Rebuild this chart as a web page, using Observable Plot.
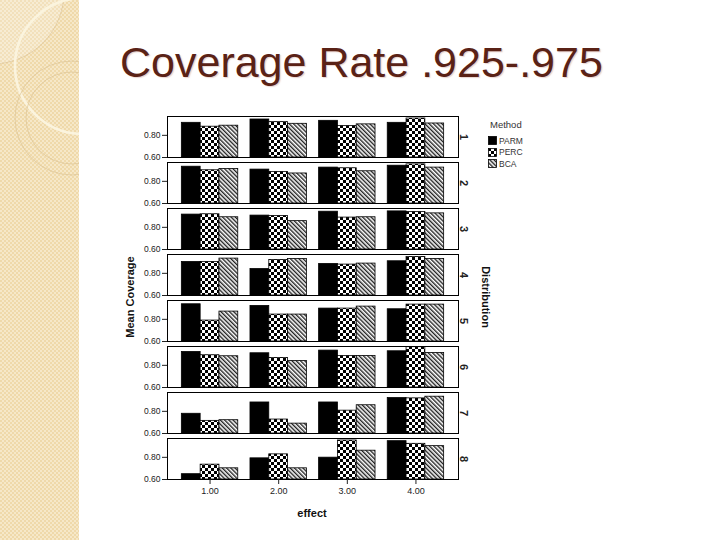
<!DOCTYPE html>
<html>
<head>
<meta charset="utf-8">
<script src="https://cdn.jsdelivr.net/npm/d3@7"></script>
<script src="https://cdn.jsdelivr.net/npm/@observablehq/plot@0.6"></script>
<style>
  html, body { margin: 0; padding: 0; }
  body { width: 720px; height: 540px; position: relative; overflow: hidden; background: #fff;
         font-family: "Liberation Sans", Arial, sans-serif; }
  #band { position: absolute; left: 0; top: 0; width: 79px; height: 540px; overflow: hidden;
          background-color: #f2dfb4;
          background-image: repeating-conic-gradient(#f6e8c8 0 25%, #efd9aa 0 50%);
          background-size: 4px 4px; }
  #title { position: absolute; left: 120px; top: 38px; font-size: 43px; color: #5a2216;
           white-space: nowrap; text-shadow: 1.2px 1.2px 1px rgba(210,170,160,0.5); }
  #chart { position: absolute; left: 100px; top: 100px; }
  .lab { position: absolute; font-weight: bold; font-size: 11px; color: #111; white-space: nowrap; }
  #legend { position: absolute; left: 488px; top: 119px; font-size: 8.5px; color: #333; }
</style>
</head>
<body>
<div id="band">
  <svg width="79" height="540">
    <circle cx="-8" cy="-8" r="72" fill="rgba(255,255,255,0.2)" stroke="rgba(200,170,120,0.5)" stroke-width="0.7"/>
    <circle cx="83" cy="66" r="68" fill="none" stroke="#fbf4de" stroke-width="2.6"/>
    <circle cx="72" cy="118" r="57" fill="none" stroke="#dcc495" stroke-width="0.7"/>
    <circle cx="72" cy="118" r="46" fill="none" stroke="#dcc495" stroke-width="0.7"/>
  </svg>
</div>
<div id="title">Coverage Rate .925-.975</div>

<svg width="0" height="0" style="position:absolute">
  <defs>
    <pattern id="pat-chk" width="6" height="6" patternUnits="userSpaceOnUse">
      <rect width="6" height="6" fill="#fff"/>
      <rect width="3" height="3" fill="#000"/>
      <rect x="3" y="3" width="3" height="3" fill="#000"/>
    </pattern>
    <pattern id="pat-hatch" width="3" height="3" patternUnits="userSpaceOnUse" patternTransform="rotate(-45)">
      <rect width="3" height="3" fill="#fff"/>
      <line x1="0.7" y1="0" x2="0.7" y2="3" stroke="#222" stroke-width="1.4"/>
    </pattern>
  </defs>
</svg>

<div id="chart"></div>
<div class="lab" id="ylab" style="left:130px; top:297px; transform: translate(-50%,-50%) rotate(-90deg);">Mean Coverage</div>
<div class="lab" id="fylab" style="left:486px; top:297px; transform: translate(-50%,-50%) rotate(90deg);">Distribution</div>
<div class="lab" id="xlab" style="left:312px; top:513px; transform: translate(-50%,-50%);">effect</div>
<div id="legend"></div>

<script>
// ---- data ----
const effects = [1, 2, 3, 4];
const effectLabels = ["1.00", "2.00", "3.00", "4.00"];
const methods = ["PARM", "PERC", "BCA"];
const distributions = [1, 2, 3, 4, 5, 6, 7, 8];
const yTicks = [0.6, 0.8];

// mean coverage per distribution (rows) x effect (columns)
const parm = [
  [0.913, 0.943, 0.931, 0.913],
  [0.932, 0.906, 0.924, 0.941],
  [0.915, 0.906, 0.941, 0.944],
  [0.903, 0.839, 0.885, 0.909],
  [0.936, 0.921, 0.897, 0.891],
  [0.921, 0.909, 0.933, 0.927],
  [0.778, 0.880, 0.880, 0.920],
  [0.648, 0.791, 0.797, 0.946]
];
const perc = [
  [0.878, 0.919, 0.884, 0.952],
  [0.900, 0.885, 0.918, 0.953],
  [0.918, 0.903, 0.888, 0.938],
  [0.903, 0.921, 0.879, 0.948],
  [0.789, 0.843, 0.897, 0.933],
  [0.891, 0.867, 0.885, 0.964],
  [0.714, 0.726, 0.806, 0.917],
  [0.734, 0.827, 0.952, 0.922]
];
const bca = [
  [0.887, 0.904, 0.899, 0.907],
  [0.912, 0.871, 0.891, 0.924],
  [0.891, 0.856, 0.891, 0.926],
  [0.933, 0.930, 0.888, 0.930],
  [0.870, 0.843, 0.915, 0.933],
  [0.882, 0.839, 0.885, 0.912],
  [0.720, 0.689, 0.855, 0.932],
  [0.701, 0.701, 0.860, 0.901]
];

// ---- build table ----
const seriesByMethod = {PARM: parm, PERC: perc, BCA: bca};
const rows = [];
distributions.forEach((dist, di) => {
  effects.forEach((eff, ei) => {
    methods.forEach((m, mi) => {
      rows.push({dist, effect: eff, method: m, mi, value: seriesByMethod[m][di][ei]});
    });
  });
});

const barW = 0.274;
const yMin = 0.6, yMax = 0.97;
const fills = ["#000", "url(#pat-chk)", "url(#pat-hatch)"];

const chart = Plot.plot({
  width: 440,
  height: 430,
  marginLeft: 67,
  marginRight: 82,
  marginTop: 15,
  marginBottom: 51,
  style: {fontFamily: "'Liberation Sans', Arial, sans-serif", color: "#222", background: "transparent"},
  x: {domain: [0.38, 4.62]},
  y: {domain: [yMin, yMax]},
  fy: {domain: distributions, paddingInner: 0.11, paddingOuter: 0},
  color: {type: "ordinal", domain: methods, range: fills},
  marks: [
    Plot.rectY(rows, {
      x1: d => d.effect + (d.mi - 1.5) * barW,
      x2: d => d.effect + (d.mi - 0.5) * barW,
      y1: () => yMin,
      y2: "value",
      fy: "dist",
      fill: "method",
      stroke: "#000",
      strokeWidth: 0.8
    }),
    Plot.frame({stroke: "#000", strokeWidth: 1}),
    Plot.axisY({ticks: yTicks, tickFormat: d3.format(".2f"), tickSize: 5, tickPadding: 2, fontSize: 8.5, label: null}),
    Plot.axisX({ticks: effects, tickFormat: d => effectLabels[effects.indexOf(d)], tickSize: 5, tickPadding: 3, fontSize: 9, label: null}),
    Plot.axisFy({anchor: "right", tickRotate: 90, tickSize: 0, tickPadding: 9, fontSize: 11, fontWeight: "bold", label: null})
  ]
});
document.getElementById("chart").appendChild(chart);

// ---- legend ----
const lg = d3.select("#legend");
lg.append("div").style("font-size", "9.5px").style("margin-left", "2px").style("margin-bottom", "5px").text("Method");
methods.forEach((m, i) => {
  const row = lg.append("div").style("display", "flex").style("align-items", "center").style("height", "11.5px");
  row.append("svg").attr("width", 10).attr("height", 9)
    .append("rect").attr("x", 0.5).attr("y", 0.5).attr("width", 8).attr("height", 8)
    .attr("fill", fills[i]).attr("stroke", "#000").attr("stroke-width", 0.8);
  row.append("span").style("margin-left", "1px").text(m);
});
</script>
</body>
</html>
